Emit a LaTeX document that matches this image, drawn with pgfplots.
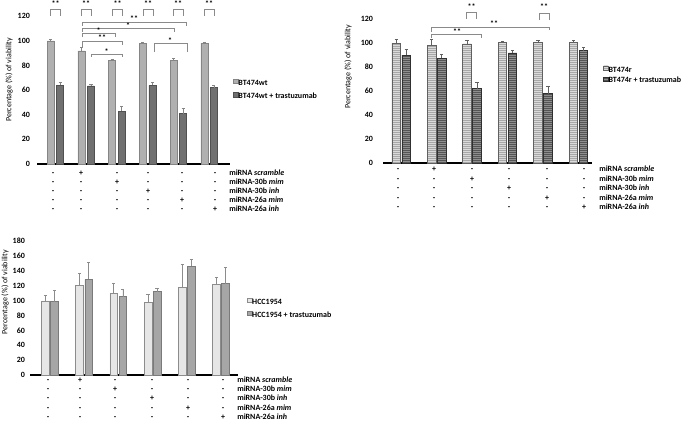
\documentclass[border=0pt]{standalone}
\usepackage{fontspec}
\setmainfont{Carlito}
\usepackage{pgfplots}
\pgfplotsset{compat=1.18}
\usetikzlibrary{patterns,patterns.meta}

\definecolor{aLight}{HTML}{B0B0B0}
\definecolor{aLightE}{HTML}{858585}
\definecolor{aDark}{HTML}{707070}
\definecolor{aDarkE}{HTML}{505050}
\definecolor{bLight}{HTML}{A8A8A8}
\definecolor{bLightS}{HTML}{DADADA}
\definecolor{bLightE}{HTML}{606060}
\definecolor{bDark}{HTML}{555555}
\definecolor{bDarkS}{HTML}{8E8E8E}
\definecolor{bDarkE}{HTML}{303030}
\definecolor{cLight}{HTML}{E6E6E6}
\definecolor{cLightE}{HTML}{8C8C8C}
\definecolor{cDark}{HTML}{A6A6A6}
\definecolor{cDarkE}{HTML}{7A7A7A}
\definecolor{brk}{HTML}{8A8A8A}

\newcommand{\fs}{\fontsize{6}{7}\selectfont}

\pgfplotsset{
  panel/.style={
    scale only axis, clip=false, ybar,
    axis x line=bottom, axis y line=left,
    y axis line style={draw=none},
    x axis line style={-, line width=1pt, black},
    xtick=\empty, major tick length=0pt,
    ymin=0,
    tick label style={font=\fs\bfseries},
    /pgf/number format/assume math mode=true,
    ylabel style={font=\fs, rotate=0, anchor=center},
    legend style={draw=none, fill=none, font=\fs\bfseries, inner sep=0pt,
      anchor=west, nodes={inner sep=0pt, text height=4.2pt, text depth=1pt},
      /tikz/every even column/.append style={column sep=2.2pt}},
    legend cell align=left,
  },
  sqlegend/.style={legend image code/.code={\draw[##1] (0pt,-0.4pt) rectangle (3.4pt,3pt);}},
}

\newcommand{\brk}[5]{\draw[line width=0.5pt, brk] (#1,#4) -- (#1,#3) -- (#2,#3) -- (#2,#5);}
\newcommand{\stars}[3]{\node[font=\fontsize{6}{6}\selectfont\bfseries, anchor=base, inner sep=0] at (#1,#2+4) {#3};}
\newcommand{\pmtable}[9]{%
  \foreach \lab [count=\ri] in {{miRNA \textit{scramble}},{miRNA-30b \textit{mim}},{miRNA-30b \textit{inh}},{miRNA-26a \textit{mim}},{miRNA-26a \textit{inh}}}{%
    \pgfmathsetmacro{\yy}{#7+(\ri-1)*#8+2}
    \foreach \cx [count=\ci] in {#1,#2,#3,#4,#5,#6}{%
      \ifnum\ci=\numexpr\ri+1\relax\def\sym{+}\else\def\sym{-}\fi
      \node[anchor=base, inner sep=0, font=\fs\bfseries] at (\cx,\yy) {\sym};
    }
    \node[anchor=base west, inner sep=0, font=\fs\bfseries] at (#9,\yy) {\lab};
  }%
}

\begin{document}
\begin{tikzpicture}
\path[use as bounding box] (0,0) rectangle (513.75pt,315.75pt);

% ---------------- Panel A ----------------
\begin{axis}[panel, at={(27.75pt,192.75pt)}, anchor=south west,
  width=144.75pt, height=110.7pt, xmin=-0.6, xmax=5.68, ymax=120,
  ytick={0,20,...,120}, bar width=5.25pt, ybar=1.9pt, sqlegend,
  yticklabel style={xshift=-1.8pt},
  ylabel={Percentage (\%) of viability},
  ylabel style={at={(axis description cs:-0.145,0.57)}},
  legend style={at={(axis description cs:1.0155,0.505)}, row sep=4.5pt}]
\addplot[fill=aLight, draw=aLightE, line width=0.5pt,
  error bars/.cd, y dir=plus, y explicit,
  error bar style={aLightE, line width=0.5pt},
  error mark options={rotate=90, mark size=1.2pt, aLightE, line width=0.5pt}]
  coordinates {(0,100) +- (0,1) (1,92) +- (0,2.5) (2,84) +- (0,1) (3,98) +- (0,0.6) (4,84) +- (0,1.5) (5,98) +- (0,1.2)};
\addplot[fill=aDark, draw=aDarkE, line width=0.5pt,
  error bars/.cd, y dir=plus, y explicit,
  error bar style={aLightE, line width=0.5pt},
  error mark options={rotate=90, mark size=1.2pt, aLightE, line width=0.5pt}]
  coordinates {(0,64) +- (0,2) (1,63.5) +- (0,1.5) (2,43) +- (0,4) (3,64) +- (0,2) (4,41) +- (0,4.5) (5,62) +- (0,2)};
\legend{BT474wt, BT474wt + trastuzumab}
\end{axis}

% ---------------- Panel B ----------------
\begin{axis}[panel, at={(287.25pt,193.5pt)}, anchor=south west,
  width=156.75pt, height=107.7pt, xmin=-0.51, xmax=5.38, ymax=120,
  ytick={0,20,...,120}, bar width=6.4pt, ybar=1.1pt, sqlegend,
  yticklabel style={xshift=-4pt},
  ylabel={Percentage (\%) of viability},
  ylabel style={at={(axis description cs:-0.167,0.67)}},
  legend style={at={(axis description cs:1.053,0.613)}, row sep=2.3pt}]
\addplot[fill=bLight, draw=bLightE, line width=0.5pt,
  postaction={pattern color=bLightS, pattern={Lines[angle=0,distance=1.5pt,line width=0.55pt]}},
  error bars/.cd, y dir=plus, y explicit,
  error bar style={bLightE, line width=0.5pt},
  error mark options={rotate=90, mark size=1.2pt, bLightE, line width=0.5pt}]
  coordinates {(0,100) +- (0,3) (1,98) +- (0,5.5) (2,99.5) +- (0,3) (3,101) +- (0,1) (4,101) +- (0,1.5) (5,101) +- (0,1.5)};
\addplot[fill=bDark, draw=bDarkE, line width=0.5pt,
  postaction={pattern color=bDarkS, pattern={Lines[angle=0,distance=1.5pt,line width=0.55pt]}},
  error bars/.cd, y dir=plus, y explicit,
  error bar style={bLightE, line width=0.5pt},
  error mark options={rotate=90, mark size=1.2pt, bLightE, line width=0.5pt}]
  coordinates {(0,90) +- (0,5) (1,87.5) +- (0,3) (2,62) +- (0,5.5) (3,92) +- (0,2) (4,58) +- (0,6) (5,94) +- (0,3)};
\legend{BT474r, BT474r + trastuzumab}
\end{axis}

% ---------------- Panel C ----------------
\begin{axis}[panel, at={(22.5pt,34.5pt)}, anchor=south west,
  width=156pt, height=100.3pt, xmin=-0.585, xmax=5.5, ymax=180,
  ytick={0,20,...,180}, bar width=5.8pt, ybar=1pt, sqlegend,
  yticklabel style={xshift=-0.3pt},
  ylabel={Percentage (\%) of viability},
  ylabel style={at={(axis description cs:-0.12,0.62)}},
  legend style={at={(axis description cs:1.042,0.50)}, row sep=3.8pt}]
\addplot[fill=cLight, draw=cLightE, line width=0.5pt,
  error bars/.cd, y dir=plus, y explicit,
  error bar style={cLightE, line width=0.5pt},
  error mark options={rotate=90, mark size=1.2pt, cLightE, line width=0.5pt}]
  coordinates {(0,99.6) +- (0,7) (1,120.6) +- (0,16.5) (2,109.4) +- (0,14.6) (3,97.8) +- (0,10.7) (4,118.4) +- (0,31.2) (5,121.9) +- (0,9.9)};
\addplot[fill=cDark, draw=cDarkE, line width=0.5pt,
  error bars/.cd, y dir=plus, y explicit,
  error bar style={cLightE, line width=0.5pt},
  error mark options={rotate=90, mark size=1.2pt, cLightE, line width=0.5pt}]
  coordinates {(0,98.7) +- (0,14.7) (1,128.6) +- (0,23.3) (2,105.4) +- (0,10.3) (3,112) +- (0,4) (4,146.5) +- (0,9.4) (5,122.8) +- (0,21.5)};
\legend{HCC1954, HCC1954 + trastuzumab}
\end{axis}

% ---------------- annotations (pixel grid) ----------------
\begin{scope}[x=0.75pt, y=-0.75pt, shift={(0pt,315.75pt)}]
  % Panel A pair brackets
  \foreach \c in {55.5,86,117.5,148,178,209}{\brk{\c-5}{\c+5}{9}{16}{16}\stars{\c}{3}{**}}
  \brk{82}{186}{22}{26}{26}\stars{134}{18}{**}
  \brk{82}{174}{28}{32}{32}\stars{128}{24.5}{*}
  \brk{82}{115}{33}{37}{37}\stars{98.5}{29.5}{*}
  \brk{82}{122}{41}{48}{45}\stars{102}{37}{**}
  \brk{91}{122}{54}{57}{57}\stars{106.5}{51}{*}
  \brk{154}{187}{43}{52}{52}\stars{170}{39.5}{*}
  % Panel B brackets
  \brk{466.7}{476.7}{12}{19}{19}\stars{471.7}{6}{**}
  \brk{539}{549}{13}{20}{20}\stars{544}{6}{**}
  \brk{431}{549}{27}{32}{30}\stars{494}{23}{**}
  \brk{431}{481}{34}{38}{38}\stars{457}{30.5}{**}
  % treatment tables
  \pmtable{53}{81}{117}{148}{182}{215}{174}{9}{229}
  \pmtable{398}{434}{472}{509}{547}{584}{170}{9.5}{599}
  \pmtable{48}{80}{115}{152}{188}{223}{381}{9}{237}
\end{scope}
\end{tikzpicture}
\end{document}
